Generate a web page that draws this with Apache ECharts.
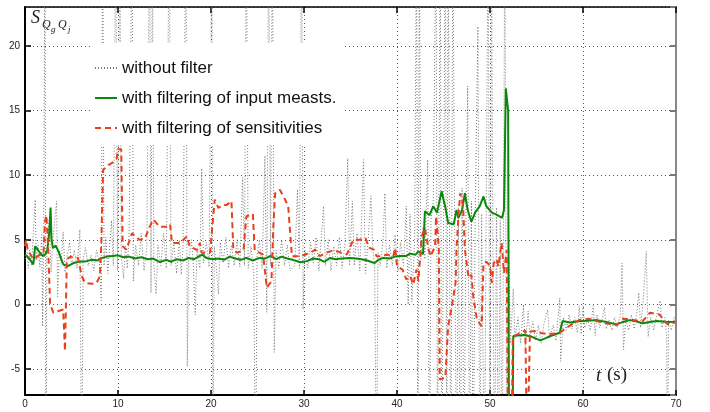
<!DOCTYPE html>
<html>
<head>
<meta charset="utf-8">
<script src="https://cdn.jsdelivr.net/npm/echarts@6/dist/echarts.min.js"></script>
<style>
  html, body { margin: 0; padding: 0; background: #fff; }
  #chart { width: 710px; height: 412px; }
</style>
</head>
<body>
<div id="chart"></div>
<script>
// [t (s), S]; values beyond the axis range are clipped
const rawPoints = [
  [0, 3.5], [0.2, 4.8], [0.35, 2.8], [0.5, 4.2], [0.7, 3.0], [0.9, 5.5], [1.1, 8.1], [1.2, 3.4],
  [1.4, 4.6], [1.6, 2.9], [1.8, 5.4], [1.9, -1.7], [2.0, 4.5], [2.15, 30], [2.25, -15], [2.35, 4.0],
  [2.6, 6.5], [2.8, 2.5], [3.0, 5.0], [3.4, 8.0], [3.5, 0.6], [3.7, 4.2], [3.9, 3.2], [4.1, 5.6],
  [4.3, 2.5], [4.5, 3.6], [4.8, 4.8], [5.0, 3.0], [5.3, 4.2], [5.6, 2.8], [5.9, 5.8], [6.1, -15],
  [6.25, 3.5], [6.5, 4.4], [6.8, 3.0], [7.1, 3.8], [7.4, 2.6], [7.7, 4.2], [8.0, 3.3], [8.2, 0.3],
  [8.35, 30], [8.5, 3.0], [8.7, 5.2], [8.9, 2.4], [9.1, 4.4], [9.3, 6.5], [9.5, 3.0], [9.75, 30],
  [9.95, 2.6], [10.2, 30], [10.35, 3.8], [10.6, 2.0], [10.8, 4.5], [11.0, 2.8], [11.2, 5.6], [11.5, 30],
  [11.65, 1.8], [11.9, 4.6], [12.2, 3.0], [12.5, 5.5], [12.8, 2.6], [13.1, 4.4], [13.4, 30], [13.55, 0.9],
  [13.7, 30], [13.85, 3.0], [14.1, 0.8], [14.3, 4.6], [14.6, 3.0], [14.9, 5.5], [15.2, 2.8], [15.5, 30],
  [15.7, 3.0], [16.0, 4.8], [16.3, 2.4], [16.6, 5.0], [16.8, 2.3], [17.0, 4.5], [17.3, 30], [17.45, -4.8],
  [17.6, 3.5], [17.9, 5.0], [18.1, 3.1], [18.3, -0.8], [18.5, 4.4], [18.8, 2.8], [19.0, 10.5], [19.2, 3.2],
  [19.5, 4.8], [19.8, 2.9], [20.1, 30], [20.2, -15], [20.35, 4.5], [20.6, 2.6], [20.8, 0.8], [21.0, 4.8],
  [21.3, 3.2], [21.6, 5.2], [21.9, 2.8], [22.2, 4.6], [22.5, 3.0], [22.8, 5.0], [23.1, 2.9], [23.4, 9.8],
  [23.6, 3.0], [23.8, 30], [24.0, 2.8], [24.3, 4.5], [24.6, 2.4], [24.8, -15], [24.95, 3.8], [25.2, 5.0],
  [25.5, 2.8], [25.8, 11.5], [26.0, -0.6], [26.2, 30], [26.4, 3.0], [26.6, 30], [26.8, -3.7], [27.0, 4.2],
  [27.3, 2.8], [27.6, 5.0], [27.9, 3.0], [28.2, 4.6], [28.5, 2.6], [29.0, 3.0], [29.3, 8.9], [29.5, 2.8],
  [29.75, 30], [29.9, -0.4], [30.1, 4.2], [30.4, 2.8], [30.7, 4.8], [31.0, 3.2], [31.3, 5.2], [31.6, 2.6],
  [32.1, 7.6], [32.3, 3.0], [32.6, 5.0], [32.9, 2.6], [33.2, 4.5], [33.5, 3.0], [33.8, 5.2], [34.1, 2.8],
  [34.4, 4.6], [34.7, 11.3], [34.9, 3.0], [35.2, 8.0], [35.4, 3.0], [35.7, 5.5], [36.0, 2.6], [36.4, 11.2],
  [36.6, 2.4], [36.9, 5.0], [37.2, 8.4], [37.4, 4.2], [37.6, 3.0], [37.8, -15], [37.95, 4.0], [38.2, 3.0],
  [38.5, 5.0], [38.7, 8.6], [38.9, 2.8], [39.2, 4.6], [39.5, 3.0], [39.8, 5.4], [40.1, 2.6], [40.4, 4.8],
  [40.7, 3.0], [41.0, 7.6], [41.2, 0.0], [41.4, 7.0], [41.6, 0.2], [41.9, 5.0], [42.1, 30], [42.25, -15],
  [42.4, 30], [42.55, 3.5], [42.8, 6.0], [43.0, 3.5], [43.3, 11.2], [43.5, -15], [43.65, 6.5], [43.9, 8.0],
  [44.2, 30], [44.35, -15], [44.5, 5.5], [44.65, 30], [44.8, -15], [45.0, 6.0], [45.2, 30], [45.35, -15],
  [45.5, 30], [45.65, 4.0], [45.8, -15], [46.0, 30], [46.2, 6.0], [46.4, -15], [46.6, 7.5], [46.8, -15],
  [47.0, 9.0], [47.2, -15], [47.4, 6.0], [47.6, 16.9], [47.8, -15], [48.0, 8.0], [48.2, -15], [48.4, 6.5],
  [48.7, 21.5], [48.9, -15], [49.1, 7.0], [49.4, -15], [49.6, 8.0], [49.8, 30], [50.0, -15], [50.15, 30],
  [50.3, 6.0], [50.5, -15], [50.7, 7.5], [50.9, -15], [51.1, 6.5], [51.3, -15], [51.45, 6.0], [51.6, 30],
  [51.8, -15], [52.0, 5.0], [52.2, -3.0], [52.5, 1.2], [52.7, -2.6], [53.0, -1.0], [53.3, -3.0], [53.6, 0.0],
  [53.8, -3.3], [54.1, -0.5], [54.3, -2.5], [54.6, -1.3], [54.9, -2.8], [55.2, -1.6], [55.5, -3.0], [55.8, -1.5],
  [56.2, -0.4], [56.4, -2.6], [56.8, -1.6], [57.1, -2.8], [57.5, 0.5], [57.6, -4.4], [57.9, -1.0], [58.2, -2.0],
  [58.5, -0.8], [58.8, -1.9], [59.1, -1.0], [59.4, -2.2], [59.6, -0.15], [59.8, -2.3], [60.0, -0.1], [60.2, -1.8],
  [60.5, -1.2], [60.8, -2.0], [61.1, -0.1], [61.3, -2.4], [61.5, -0.8], [61.8, -1.8], [62.1, -1.0], [62.3, -0.2],
  [62.5, -1.9], [62.8, -1.2], [63.1, -2.0], [63.4, -1.0], [63.7, -1.8], [64.0, -0.9], [64.2, 3.2], [64.35, -3.5],
  [64.6, -1.2], [64.9, -2.0], [65.2, -0.8], [65.5, -1.9], [65.8, -0.6], [66.0, 0.9], [66.2, -1.8], [66.5, 0.6],
  [66.8, 4.1], [67.0, -2.5], [67.3, -1.0], [67.6, -2.0], [67.9, -0.9], [68.3, 0.3], [68.5, -1.8], [68.8, -1.0],
  [69.0, -2.6], [69.05, -15], [69.2, -1.2], [69.5, -2.0], [69.8, -1.0], [70.0, -1.6]
];

const inputFiltPoints = [
  [0, 3.86], [0.4, 3.6], [0.9, 3.1], [1.08, 4.5], [1.3, 4.3], [1.6, 4.0], [1.97, 3.73], [2.2, 3.9],
  [2.4, 4.24], [2.6, 5.5], [2.75, 7.5], [2.85, 5.0], [3.0, 4.37], [3.3, 4.55], [3.6, 4.1], [3.9, 3.5],
  [4.12, 3.09], [4.6, 2.96], [5.2, 3.2], [5.8, 3.3], [6.6, 3.35], [7.2, 3.45], [7.8, 3.4], [8.3, 3.6],
  [8.8, 3.7], [9.4, 3.75], [10.0, 3.8], [10.6, 3.65], [11.2, 3.7], [11.8, 3.55], [12.5, 3.65], [13.2, 3.5],
  [13.8, 3.55], [14.5, 3.28], [15.2, 3.45], [15.7, 3.3], [16.3, 3.5], [17.0, 3.4], [17.6, 3.6], [18.2, 3.5],
  [18.8, 3.75], [19.1, 3.85], [19.5, 3.6], [20.2, 3.5], [20.8, 3.55], [21.4, 3.45], [22.0, 3.7], [22.6, 3.55],
  [23.2, 3.45], [23.8, 3.6], [24.5, 3.4], [25.2, 3.6], [25.8, 3.55], [26.4, 3.75], [27.0, 3.5], [27.6, 3.7],
  [28.2, 3.55], [28.8, 3.45], [29.6, 3.26], [30.3, 3.35], [31.0, 3.55], [31.6, 3.5], [32.2, 3.3], [32.8, 3.6],
  [33.4, 3.5], [34.0, 3.55], [34.9, 3.6], [35.6, 3.55], [36.2, 3.5], [36.8, 3.4], [37.6, 3.2], [38.0, 3.45],
  [38.5, 3.6], [39.2, 3.55], [39.8, 3.7], [40.4, 3.75], [41.0, 3.75], [41.4, 3.93], [42.0, 3.85], [42.3, 4.1],
  [42.8, 3.9], [43.0, 7.2], [43.5, 6.9], [43.9, 7.6], [44.3, 7.1], [44.8, 8.75], [45.2, 7.5], [45.5, 6.3],
  [46.1, 6.2], [46.4, 7.3], [46.6, 6.7], [47.0, 7.3], [47.3, 8.6], [47.6, 7.3], [48.0, 6.4], [48.4, 7.1],
  [48.9, 7.6], [49.3, 8.35], [49.6, 7.6], [50.2, 7.1], [50.7, 6.95], [51.3, 6.7], [51.5, 7.3], [51.7, 16.7],
  [51.95, 15.0], [52.05, -12], [52.4, -12], [52.5, -2.44], [53.0, -2.4], [53.7, -2.36], [54.5, -2.5], [55.4, -2.78],
  [56.0, -2.6], [56.5, -2.44], [57.5, -2.19], [57.8, -1.28], [58.6, -1.4], [59.5, -1.3], [60.5, -1.25], [61.5, -1.21],
  [62.5, -1.35], [63.6, -1.54], [64.3, -1.35], [65.0, -1.21], [65.7, -1.3], [66.4, -1.46], [67.2, -1.35], [67.9, -1.28],
  [68.8, -1.33], [69.9, -1.36]
];

const sensFiltPoints = [
  [0, 4.5], [0.1, 5.0], [0.3, 4.2], [0.9, 3.5], [1.5, 3.8], [2.0, 4.0], [2.15, 6.4], [2.3, 6.9],
  [2.5, 4.2], [2.7, 0.0], [3.05, -0.64], [3.6, -0.5], [4.1, -0.39], [4.2, -2.0], [4.3, -3.6], [4.5, 3.5],
  [4.9, 3.7], [5.7, 3.6], [6.1, 2.2], [6.45, 1.67], [7.2, 1.6], [7.7, 1.67], [8.06, 2.2], [8.2, 4.6],
  [8.4, 10.4], [9.0, 10.8], [9.5, 11.0], [9.86, 11.3], [10.0, 12.0], [10.35, 12.0], [10.5, 4.5], [10.9, 4.24],
  [11.5, 5.5], [12.3, 5.0], [12.9, 5.1], [13.4, 6.0], [13.8, 6.56], [14.5, 6.0], [15.2, 6.0], [15.6, 6.2],
  [15.8, 4.76], [16.7, 4.76], [17.4, 5.27], [17.7, 4.5], [18.5, 4.2], [18.8, 4.76], [19.0, 4.0], [19.9, 4.0],
  [20.4, 8.1], [20.8, 7.46], [21.3, 7.7], [21.7, 7.7], [22.2, 8.0], [22.4, 4.24], [22.8, 4.0], [23.5, 4.2],
  [23.8, 6.8], [24.5, 7.0], [24.7, 4.2], [25.6, 3.86], [26.0, 1.3], [26.5, 1.8], [26.7, 6.0], [26.9, 8.6],
  [27.4, 8.87], [27.9, 8.2], [28.3, 7.6], [28.7, 3.73], [29.6, 3.73], [30.7, 4.0], [31.2, 4.24], [31.7, 3.73],
  [32.4, 4.0], [33.2, 4.2], [34.6, 3.86], [35.3, 5.0], [36.0, 5.0], [36.6, 5.14], [37.0, 4.4], [37.5, 4.24],
  [37.8, 3.73], [38.4, 3.73], [38.9, 3.86], [39.6, 3.7], [39.8, 4.37], [40.0, 2.96], [40.6, 2.7], [41.0, 1.93],
  [41.4, 2.2], [41.75, 1.54], [42.1, 2.7], [42.3, 1.8], [42.65, 5.27], [43.0, 5.9], [43.4, 4.24], [43.6, 3.73],
  [44.1, 4.5], [44.2, 6.8], [44.4, 5.27], [44.5, 4.24], [44.6, -5.8], [45.2, -5.66], [45.5, -1.67], [45.9, -0.13],
  [46.3, 1.67], [46.4, 4.24], [46.6, 6.8], [46.8, 8.6], [47.1, 7.7], [47.3, 4.24], [47.7, 2.06], [48.0, 2.3],
  [48.2, 0.64], [48.6, -1.2], [49.1, -1.67], [49.3, 3.2], [49.6, 3.3], [50.0, 3.0], [50.2, 1.67], [50.4, 3.2],
  [50.7, 3.5], [50.9, 2.95], [51.25, 4.76], [51.5, 2.44], [51.8, 4.2], [51.95, -12], [52.3, -12], [52.45, -2.5],
  [53.0, -2.3], [53.8, -2.0], [54.0, -12], [54.2, -12], [54.3, -2.1], [54.8, -2.06], [55.5, -2.2], [56.3, -2.3],
  [57.5, -2.2], [58.2, -1.8], [59.6, -1.2], [60.6, -1.1], [62.0, -1.4], [63.6, -1.6], [64.3, -1.1], [65.4, -1.2],
  [66.4, -1.3], [67.2, -0.64], [68.2, -0.77], [69.1, -1.54], [69.9, -1.4]
];

const seriesNames = [
  "without filter",
  "with filtering of input measts.",
  "with filtering of sensitivities"
];
const xTicks = [0, 70, 10];
const yRange = [-7, 23];

const chart = echarts.init(document.getElementById("chart"));

const gridDots = { show: true, lineStyle: { color: "#555", width: 1, type: [1, 3] } };
const labelFont = { fontFamily: "Liberation Sans", fontSize: 10, color: "#222" };

const option = {
  animation: false,
  backgroundColor: "#fff",
  grid: { left: 25, right: 34, top: 7, bottom: 17 },
  legend: {
    orient: "vertical",
    left: 90,
    top: 43,
    padding: [16, 6, 8, 4],
    backgroundColor: "#fff",
    itemWidth: 22,
    itemHeight: 14,
    itemGap: 12,
    itemStyle: { opacity: 0 },
    textStyle: { fontFamily: "Liberation Sans", fontSize: 17, color: "#111", lineHeight: 18 },
    data: seriesNames
  },
  xAxis: [
    {
      type: "value", min: xTicks[0], max: xTicks[1], interval: xTicks[2], position: "bottom",
      axisLine: { onZero: false, lineStyle: { color: "#000", width: 2 } },
      axisTick: { inside: true, length: 5, lineStyle: { color: "#000", width: 1.5 } },
      axisLabel: Object.assign({ margin: 4 }, labelFont),
      splitLine: gridDots
    },
    {
      type: "value", min: xTicks[0], max: xTicks[1], interval: xTicks[2], position: "top",
      axisLine: { onZero: false, lineStyle: { color: "#000", width: 1.5 } },
      axisTick: { inside: true, length: 6, lineStyle: { color: "#000", width: 1.5 } },
      axisLabel: { show: false },
      splitLine: { show: false }
    }
  ],
  yAxis: [
    {
      type: "value", min: yRange[0], max: yRange[1], position: "left",
      axisLine: { show: true, onZero: false, lineStyle: { color: "#000", width: 2 } },
      axisTick: { show: true, inside: true, length: 6, lineStyle: { color: "#000", width: 1.5 } },
      axisLabel: Object.assign({ margin: 5, showMinLabel: false, showMaxLabel: false }, labelFont),
      splitLine: gridDots
    },
    {
      type: "value", min: yRange[0], max: yRange[1], position: "right",
      axisLine: { show: true, onZero: false, lineStyle: { color: "#888", width: 2 } },
      axisTick: { show: true, inside: true, length: 6, lineStyle: { color: "#777", width: 2 } },
      axisLabel: { show: false },
      splitLine: { show: false }
    }
  ],
  series: [
    {
      name: seriesNames[0], type: "line", data: rawPoints, symbol: "none",
      lineStyle: { color: "#777", width: 1, type: [1, 2] },
      itemStyle: { color: "#777" }
    },
    {
      name: seriesNames[1], type: "line", data: inputFiltPoints, symbol: "none",
      lineStyle: { color: "#0b870b", width: 2 },
      itemStyle: { color: "#0b870b" }
    },
    {
      name: seriesNames[2], type: "line", data: sensFiltPoints, symbol: "none",
      lineStyle: { color: "#e8401c", width: 2, type: [6, 4] },
      itemStyle: { color: "#e8401c" }
    }
  ],
  graphic: [
    { type: "text", z: 100, x: 31, y: 9, style: { text: "S", font: "italic 18px 'Liberation Serif'", fill: "#222" } },
    { type: "text", z: 100, x: 42, y: 19, style: { text: "Q", font: "italic 12px 'Liberation Serif'", fill: "#222" } },
    { type: "text", z: 100, x: 51, y: 25, style: { text: "g", font: "italic 9px 'Liberation Serif'", fill: "#222" } },
    { type: "text", z: 100, x: 58, y: 19, style: { text: "Q", font: "italic 12px 'Liberation Serif'", fill: "#222" } },
    { type: "text", z: 100, x: 68, y: 25, style: { text: "j", font: "italic 9px 'Liberation Serif'", fill: "#222" } },
    { type: "text", z: 100, x: 596, y: 366, style: { text: "t", font: "italic 19px 'Liberation Serif'", fill: "#222" } },
    { type: "text", z: 100, x: 607, y: 366, style: { text: "(s)", font: "19px 'Liberation Serif'", fill: "#222" } }
  ]
};

chart.setOption(option);
</script>
</body>
</html>
